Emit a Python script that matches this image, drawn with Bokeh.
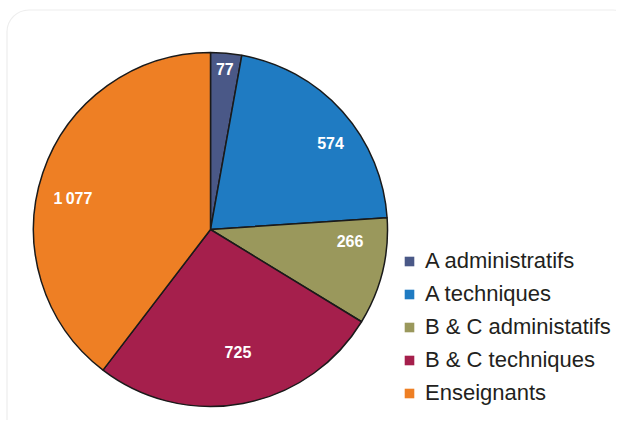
import numpy as np
from bokeh.plotting import figure
from bokeh.models import ColumnDataSource, Legend, LegendItem, BoxAnnotation
from bokeh.core.properties import value
from bokeh.embed import file_html
from bokeh.resources import INLINE

# ---- data ----
categories = ["A administratifs", "A techniques", "B & C administatifs",
              "B & C techniques", "Enseignants"]
counts = [77, 574, 266, 725, 1077]
count_labels = ["77", "574", "266", "725", "1\u2009077"]
colors = ["#4a5887", "#1f7bc2", "#9a985c", "#a51f4c", "#ee7f24"]

# ---- layout ----
W, H = 616, 420
cx, cy, R = 210, 191, 177
label_r = [161, 148, 140, 126, 141]
label_shift_deg = [0, -6, 9, 2, 6]

vals = np.array(counts, dtype=float)
ang = vals / vals.sum() * 2 * np.pi
ends = np.pi / 2 - np.cumsum(ang)
starts = ends + ang
mids = (starts + ends) / 2 + np.radians(label_shift_deg)
lx = cx + np.array(label_r) * np.cos(mids)
ly = cy + np.array(label_r) * np.sin(mids)

src = ColumnDataSource(dict(cat=categories, start=ends, end=starts, color=colors,
                            lx=lx, ly=ly, lab=count_labels))

p = figure(width=W, height=H, x_range=(0, W), y_range=(0, H),
           output_backend="svg", toolbar_location=None, min_border=0)
p.axis.visible = False
p.grid.visible = False
p.outline_line_color = None
p.background_fill_color = "white"
p.border_fill_color = "white"

box = BoxAnnotation(left=6.5, right=W + 18, top=H - 9.5, bottom=-20,
                    fill_color=None, line_color="#c4c4c4", line_width=1.2,
                    border_radius=22)
p.add_layout(box)

p.wedge(x=cx, y=cy, radius=R, start_angle="start", end_angle="end",
        fill_color="color", line_color="#1a1a1a", line_width=1.5, source=src)

# zero-size wedges used only as borderless legend swatches
lr = p.wedge(x=cx, y=cy, radius=0, start_angle="start", end_angle="end",
             fill_color="color", line_color=None, source=src)

p.text(x="lx", y="ly", text="lab", source=src, text_color="white",
       text_font=value("Liberation Sans"), text_font_style="bold",
       text_font_size="16px", text_align="center", text_baseline="middle")

items = [LegendItem(label=c, renderers=[lr], index=i) for i, c in enumerate(categories)]
legend = Legend(items=items, location=(403, 14), orientation="vertical",
                glyph_width=12, glyph_height=12, label_standoff=10,
                label_height=26, spacing=7, padding=0, margin=0,
                label_text_font="Liberation Sans", label_text_font_size="22px",
                label_text_color="#231f20", border_line_color=None,
                background_fill_alpha=0)
p.add_layout(legend, "center")

open("out.html", "w").write(file_html(p, INLINE))
